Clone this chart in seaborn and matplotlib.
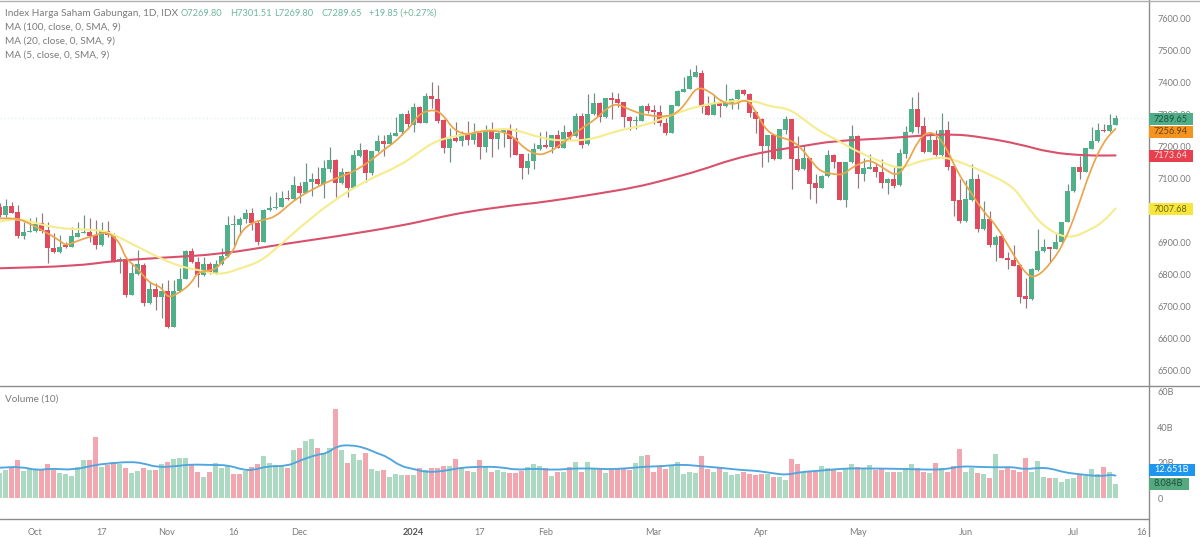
import matplotlib
matplotlib.use("Agg")
import numpy as np
import pandas as pd
import seaborn as sns
import matplotlib.pyplot as plt
from matplotlib.lines import Line2D
from matplotlib.patches import PathPatch
from matplotlib.path import Path

opens = [7011,6988,7016,6996,6922,6935,6936,6961,6940,6885,
 6873,6893,6889,6920,6930,6933,6925,6893,6938,6925,
 6847,6849,6739,6803,6831,6711,6756,6732,6750,6639,
 6749,6787,6876,6841,6800,6834,6805,6834,6860,6957,
 6956,6974,6995,6961,6904,7002,7008,7013,7041,7036,
 7079,7057,7092,7100,7084,7132,7159,7086,7123,7073,
 7173,7191,7118,7188,7220,7208,7235,7248,7303,7270,
 7324,7276,7359,7350,7284,7197,7228,7219,7240,7222,
 7243,7199,7253,7224,7247,7255,7228,7178,7135,7156,
 7193,7207,7199,7237,7198,7247,7234,7297,7208,7302,
 7337,7293,7353,7349,7340,7294,7282,7282,7328,7315,
 7310,7276,7245,7329,7373,7381,7420,7432,7328,7301,
 7341,7327,7337,7349,7378,7366,7310,7289,7203,7236,
 7164,7253,7287,7162,7130,7165,7086,7073,7109,7175,
 7154,7034,7153,7234,7116,7132,7136,7123,7086,7099,
 7080,7178,7246,7318,7266,7184,7222,7174,7253,7141,
 7034,6968,7034,7099,6945,6974,6894,6922,6854,6847,
 6830,6734,6724,6816,6876,6886,6881,6903,6966,7061,
 7137,7123,7194,7218,7253,7250,7269.80]
closes = [6988,7016,6995,6923,6935,6937,6959,6936,6885,6873,
 6887,6889,6922,6930,6933,6922,6894,6939,6924,6844,
 6849,6738,6805,6834,6711,6756,6732,6750,6639,6750,
 6787,6876,6842,6800,6834,6805,6834,6859,6956,6959,
 6975,6993,6961,6904,7003,7008,7014,7040,7036,7080,
 7057,7092,7100,7084,7133,7159,7086,7123,7073,7175,
 7191,7120,7189,7219,7209,7236,7243,7303,7272,7324,
 7276,7359,7349,7281,7197,7224,7219,7240,7222,7243,
 7199,7253,7226,7245,7255,7226,7176,7135,7156,7193,
 7206,7201,7237,7198,7247,7230,7297,7207,7303,7337,
 7293,7352,7347,7337,7293,7282,7284,7328,7314,7310,
 7274,7245,7330,7375,7382,7422,7434,7326,7301,7337,
 7329,7338,7350,7378,7366,7307,7287,7203,7236,7162,
 7255,7287,7164,7128,7165,7084,7072,7109,7174,7153,
 7034,7154,7234,7116,7135,7136,7122,7086,7099,7079,
 7180,7246,7318,7264,7184,7222,7174,7253,7139,7032,
 6968,7036,7099,6945,6974,6894,6920,6853,6847,6829,
 6732,6724,6818,6876,6886,6882,6904,6967,7063,7137,
 7123,7196,7220,7253,7250,7270,7289.65]
highs = [7024,7037,7029,7019,6967,6977,6982,6993,6967,6930,
 6925,6904,6951,6967,6988,6977,6972,6967,6970,6930,
 6857,6852,6836,6878,6836,6779,6774,6774,6784,6784,
 6821,6878,6883,6857,6857,6842,6847,6883,6984,6988,
 6982,7005,7008,6972,7005,7048,7060,7064,7066,7109,
 7092,7149,7118,7139,7159,7201,7161,7133,7126,7191,
 7214,7193,7189,7237,7237,7248,7293,7307,7316,7337,
 7328,7370,7402,7394,7287,7258,7279,7250,7281,7274,
 7250,7269,7279,7248,7258,7271,7258,7178,7180,7211,
 7248,7251,7237,7253,7269,7253,7307,7305,7366,7368,
 7342,7354,7371,7368,7342,7297,7297,7331,7338,7331,
 7331,7290,7331,7378,7418,7443,7456,7441,7359,7363,
 7345,7397,7352,7380,7380,7368,7314,7290,7237,7237,
 7256,7297,7287,7234,7206,7165,7116,7113,7191,7178,
 7154,7154,7269,7236,7165,7178,7149,7163,7102,7136,
 7193,7267,7355,7373,7293,7248,7253,7307,7282,7141,
 7099,7097,7147,7116,7032,7001,6925,6928,6873,6894,
 6833,6790,6821,6944,6911,6889,6932,6967,7083,7139,
 7172,7196,7264,7276,7272,7303,7301.51]
lows = [6982,6982,6993,6915,6911,6934,6935,6930,6839,6870,
 6870,6883,6886,6918,6930,6904,6880,6891,6920,6842,
 6805,6732,6738,6800,6703,6709,6691,6665,6633,6636,
 6748,6786,6836,6761,6797,6803,6803,6831,6857,6894,
 6925,6964,6941,6894,6902,7001,7006,7011,7034,7034,
 7024,7055,7048,7081,7042,7123,7045,7083,7045,7071,
 7170,7092,7112,7185,7173,7206,7234,7237,7255,7248,
 7274,7274,7321,7276,7180,7154,7217,7203,7206,7209,
 7161,7185,7170,7193,7201,7170,7175,7099,7116,7131,
 7191,7196,7180,7196,7196,7222,7232,7196,7206,7300,
 7279,7292,7287,7324,7261,7253,7255,7280,7305,7272,
 7266,7237,7244,7328,7372,7380,7419,7307,7300,7300,
 7295,7326,7319,7318,7364,7293,7245,7137,7154,7159,
 7162,7241,7068,7126,7128,7036,7026,7071,7107,7133,
 7034,7014,7151,7073,7095,7130,7107,7071,7053,7071,
 7079,7165,7245,7243,7180,7183,7172,7172,7128,6984,
 6961,6967,7032,6935,6941,6886,6845,6852,6820,6828,
 6711,6698,6722,6813,6873,6842,6880,6901,6965,7060,
 7100,7121,7193,7217,7248,7248,7269.80]
volumes = [13.9,15.6,16.7,21.2,15.2,16.4,16.4,15.8,19.2,15.8,
 14.1,13.7,12.4,17.7,21.6,21.6,34.2,17.5,18.6,20.3,
 19.2,16.7,14.3,15.2,16.7,16.0,15.6,19.0,20.3,22.0,
 22.7,22.7,19.0,14.9,12.0,14.5,19.6,16.7,18.0,13.3,
 13.3,15.2,17.5,19.2,23.7,19.6,18.6,17.7,17.1,27.4,
 28.4,32.1,33.3,28.4,25.2,28.4,50.2,27.1,19.9,24.6,
 21.6,25.2,16.4,15.2,15.6,11.8,13.3,13.0,13.0,13.0,
 16.7,15.8,17.1,16.7,18.0,18.0,22.2,16.7,15.2,14.5,
 21.6,17.7,14.9,15.8,14.9,14.1,14.1,15.2,17.5,19.2,
 18.2,16.7,12.6,14.9,14.9,17.5,20.1,14.9,20.3,16.7,
 16.7,13.9,15.8,16.7,16.4,15.8,19.7,23.7,24.3,14.7,
 18.0,16.4,18.6,20.5,13.3,14.5,14.1,23.7,16.4,14.5,
 17.5,14.9,13.0,13.3,14.5,13.5,13.0,13.5,13.5,11.8,
 11.8,10.2,22.2,19.0,14.5,15.2,14.9,18.2,16.7,15.8,
 14.9,16.4,19.2,17.3,16.7,18.6,15.6,17.1,14.5,14.5,
 14.5,16.7,19.2,16.7,14.5,14.1,19.7,17.1,14.9,18.0,
 27.6,14.9,17.1,14.1,13.3,11.3,24.6,15.6,17.1,15.8,
 14.9,22.6,14.5,20.9,11.7,11.1,11.3,8.8,10.5,11.1,
 13.3,12.6,16.2,13.3,17.5,14.5,8.084]
volume_sides = ("GGRRGGGRRR" "GGGGGRRGRR" "GRGGRGRGRG" "GGRRGRGGGR" "RGRRGGGGRG"
                "RGGRGGRGRG" "GRGGRGGGRG" "RGRRRGRGRG" "RGRGGRRRGG" "GRGRGRGRGG"
                "RGRRRRGGRR" "RRGGGGGRRG" "RGGGRRRRGR" "GGRRGRRGGR" "RGGRGGRRGR"
                "GGGRRGRGRR" "RGGRGRGRRR" "RRGGGRGGGG" "RGGGRGG")

ma100_bars = [0,12.7,19,27,37,47,56,67,73,78,86,89,95,100,106,111,117,122,128,134,139,148,153,159,164,170,175,181,186]
ma100_vals = [6821,6828,6844,6854,6865,6896,6920,6954,6979,6998,7019,7024,7040,7055,7074,7097,7128,7161,7187,7203,7219,7227,7235,7241,7230,7209,7183,7173,7173.64]
ma20_bars = [0,2.9,5.7,8.5,11.8,16.5,18.7,22.4,26.8,30.2,33.5,36.8,40.2,43.5,46.8,50.2,55.7,61.3,66.8,
             69.6,72.9,77.9,82.4,85.7,90.1,93.5,98.5,102.9,107.9,111.2,116.8,122.4,
             125.7,128.5,131.3,133.5,136.3,139.6,143,146.3,149.6,151.3,154,157.4,160.7,165.2,169,171.3,174,178,181.8,184,186]
ma20_vals = [6967,6977,6964,6951,6943,6941,6930,6894,6852,6826,6814,6800,6821,6842,6894,6951,7034,7097,7142,
             7180,7222,7241,7256,7256,7229,7219,7222,7251,7269,7295,7331,7345,
             7345,7326,7321,7295,7253,7222,7185,7159,7133,7141,7159,7170,7149,7113,7076,7014,6951,6911,6941,6967,7007.68]
ma5_bars = [0,3,5,7,10,11,13,16,18,20,21,23,25,27,28,30,32,33,36,37,39,40,42,44,46,48,50,53,56,59,62,64,66,
            67,68.5,70,72.4,74,75.7,78,80,83.5,85.7,87.4,89.6,91.2,93.5,96.2,99.6,101.2,102.9,105.7,108.5,111.2,112.9,114.6,116.2,118.5,120.2,122.4,124.6,126.2,127.9,130.1,131.8,133.5,
            135.2,136.8,139,140.7,141.8,144,145.2,147.4,149.6,151.3,153,154.6,156.3,158,159.6,161.8,164,166.3,168.5,171.3,173,175.2,177.4,179.6,181.8,184,186]
ma5_vals = [6977,6977,6961,6941,6909,6891,6907,6925,6935,6904,6852,6821,6774,6763,6727,6745,6774,6810,6816,6841,6873,6930,6964,6972,6982,7016,7045,7076,7102,7122,7159,7191,7217,
            7237,7263,7305,7318,7300,7253,7237,7250,7251,7232,7196,7175,7180,7206,7248,7290,7321,7337,7310,7297,7295,7305,7342,7389,7373,7342,7331,7352,7305,7248,7230,7222,7200,
            7159,7123,7115,7113,7133,7154,7159,7133,7107,7149,7217,7248,7238,7191,7123,7060,6998,6951,6878,6795,6795,6836,6899,7003,7128,7217,7256.94]
vol_ma_bars = [0,3.5,6.3,8.5,12.4,15.7,18.5,21.8,24,26.3,29.6,31.8,35.7,38,40.7,42.4,44.6,48,50.2,53,54.6,56.3,58.5,60.7,63,64.6,66.8,
               69,71.2,74,76.8,80.1,83.5,86.2,89,92.4,95.7,99,101.2,104.6,107.4,110.7,113.5,116.8,120.1,123.5,126.2,129,131.3,133.5,
               136.8,140.7,144.6,149.6,152.9,155.7,158,160.2,163.5,166.8,169,170.7,173.5,175.2,177.4,180.2,183.5,185.2,186]
vol_ma_vals = [17.1,17.7,15.6,16.7,15.8,18.6,19.6,20.5,19.6,17.3,18.0,19.0,18.6,18.6,15.8,15.8,18,18,21.4,24.6,25.2,29.5,29.9,28.6,25.2,23.3,18.0,
               16.4,14.5,15.2,17.1,17.7,17.5,15.8,16.7,15.8,16.7,16.7,16.2,16.7,17.7,18,19,18,17.1,15.8,15.4,13.9,13,14.7,
               15.4,16.7,16.7,16.5,16.2,16,16.4,18,17.5,17.3,17.5,16.2,17.1,16.7,14.5,13.3,12.2,13.2,12.651]

price_ticks = [7600,7500,7400,7300,7200,7100,7000,6900,6800,6700,6600,6500]
volume_ticks = [60,40,20,0]
volume_tick_labels = ["60B","40B","20B","0"]
date_ticks = [6,17,27.8,39,50,69,80,91,109,127,143,161,179,190.3]
date_labels = ["Oct","17","Nov","16","Dec","2024","17","Feb","Mar","Apr","May","Jun","Jul","16"]

GREEN, RED = "#4fb08a", "#df4a5e"
VOL_GREEN, VOL_RED = "#abd9c1", "#f2a6af"
GREY = "#7c7c7c"
W, H = 1200, 537
RIGHT = 1149
X0 = 0.5 / 6
TICK_FS, HEAD_FS, OHLC_FS, TAG_FS = 6.6, 7.2, 6.7, 6.6

sns.set_theme(style="white")
plt.rcParams["font.family"] = ["Lato", "DejaVu Sans"]

fig = plt.figure(figsize=(12, 5.37), dpi=100)
ax = fig.add_axes([0, 1 - 385 / H, RIGHT / W, 384 / H])
axv = fig.add_axes([0, 1 - 518 / H, RIGHT / W, 132 / H])

bars = np.arange(len(closes))
o, c, hi, lo = map(np.array, (opens, closes, highs, lows))
up = c >= o


def smooth_line(axis, xs, ys, color, lw, zorder=4):
    """Stroke the read values as one rounded curve in data coordinates."""
    pts = np.column_stack([xs, ys]).astype(float)
    mids = (pts[:-1] + pts[1:]) / 2
    verts = [pts[0], mids[0]]
    codes = [Path.MOVETO, Path.LINETO]
    for i in range(1, len(pts) - 1):
        verts += [pts[i], mids[i]]
        codes += [Path.CURVE3, Path.CURVE3]
    verts.append(pts[-1])
    codes.append(Path.LINETO)
    axis.add_patch(PathPatch(Path(verts, codes), fill=False, edgecolor=color, linewidth=lw,
                             zorder=zorder, capstyle="round", joinstyle="round"))


# candles
ax.vlines(bars, lo, hi, colors=np.where(up, "#6b8f82", "#97757b"), linewidth=0.85, zorder=2)
ax.bar(bars, np.abs(c - o), bottom=np.minimum(o, c), width=0.8,
       color=np.where(up, GREEN, RED), zorder=3, linewidth=0)

smooth_line(ax, ma100_bars, ma100_vals, "#d9506b", 1.5)
smooth_line(ax, ma20_bars, ma20_vals, "#f5ec8c", 1.5)
smooth_line(ax, ma5_bars, ma5_vals, "#eba54a", 1.25)

ax.axhline(closes[-1], color="#e3f1ea", lw=1, ls=":", zorder=1)
ax.set_xlim(X0, X0 + RIGHT / 6)
ax.set_ylim(7600 - (385 - 19) / 0.32, 7600 - (1 - 19) / 0.32)
ax.set_xticks([])
ax.set_xlabel(""); ax.set_ylabel("")
ax.yaxis.tick_right()
ax.set_yticks(price_ticks)
ax.set_yticklabels([f"{p:.2f}" for p in price_ticks], color=GREY, fontsize=TICK_FS)
ax.tick_params(axis="y", length=0, pad=6)

# volume
vol_df = pd.DataFrame({"bar": bars, "vol": volumes, "side": list(volume_sides)})
sns.barplot(data=vol_df, x="bar", y="vol", hue="side", palette={"G": VOL_GREEN, "R": VOL_RED},
            native_scale=True, dodge=False, width=0.84, legend=False, ax=axv,
            linewidth=0, zorder=2, errorbar=None, saturation=1)
smooth_line(axv, vol_ma_bars, vol_ma_vals, "#4fa5dd", 1.35)
axv.set_xlim(X0, X0 + RIGHT / 6)
axv.set_ylim(-20 / 1.77, 112 / 1.77)
axv.set_xlabel(""); axv.set_ylabel("")
axv.yaxis.tick_right()
axv.set_yticks(volume_ticks)
axv.set_yticklabels(volume_tick_labels, color=GREY, fontsize=TICK_FS)
axv.tick_params(axis="y", length=0, pad=6)
axv.set_xticks(date_ticks)
axv.set_xticklabels(date_labels, color=GREY, fontsize=TICK_FS)
axv.tick_params(axis="x", length=0, pad=7)
for t in axv.get_xticklabels():
    if t.get_text() == "2024":
        t.set_fontweight("bold")
        t.set_color("#555555")

for a in (ax, axv):
    for s in ("left", "right", "top", "bottom"):
        a.spines[s].set_visible(False)

# panel rules
rule = "#8c8c8c"
fig.add_artist(Line2D([RIGHT / W, RIGHT / W], [0, 1], color=rule, lw=1))
fig.add_artist(Line2D([0, 1], [1 - 385.5 / H] * 2, color=rule, lw=1))
fig.add_artist(Line2D([0, RIGHT / W], [1 - 518.5 / H] * 2, color=rule, lw=1))
fig.add_artist(Line2D([0, 1], [1 - 0.5 / H] * 2, color="#b0b0b0", lw=1))


# header
def head(x, y, s, color=GREY, size=HEAD_FS):
    fig.text(x / W, 1 - y / H, s, color=color, fontsize=size, va="center", ha="left")


head(5, 13.5, "Index Harga Saham Gabungan, 1D, IDX")
for x, s in [(181, "O7269.80"), (230, "H7301.51"), (274, "L7269.80"), (321, "C7289.65"), (369, "+19.85 (+0.27%)")]:
    head(x, 13.5, s, "#6db79b", OHLC_FS)
head(5, 27.5, "MA (100, close, 0, SMA, 9)")
head(5, 41.5, "MA (20, close, 0, SMA, 9)")
head(5, 55.5, "MA (5, close, 0, SMA, 9)")
head(5, 399.5, "Volume (10)")


# last-value tags
def tag(y, x1, s, face, fg):
    fig.patches.append(plt.Rectangle((RIGHT / W, 1 - (y + 6.2) / H), (x1 - RIGHT) / W, 12.4 / H,
                                     transform=fig.transFigure, color=face, zorder=5, lw=0))
    fig.text(1154 / W, 1 - y / H, s, color=fg, fontsize=TAG_FS, va="center", ha="left", zorder=6)


tag(119, 1193, "7289.65", "#4fae87", "#1f4f3d")
tag(132, 1193, "7256.94", "#f2941f", "#6b4210")
tag(156, 1193, "7173.64", "#e6404f", "#f8d8da")
tag(209, 1193, "7007.68", "#f7e63c", "#6b6412")
tag(470, 1195, "12.651B", "#1e96f0", "#ffffff")
tag(484, 1189, "8.084B", "#55a97f", "#1f4f3d")

fig.savefig("out.png", dpi=100, facecolor="white")
